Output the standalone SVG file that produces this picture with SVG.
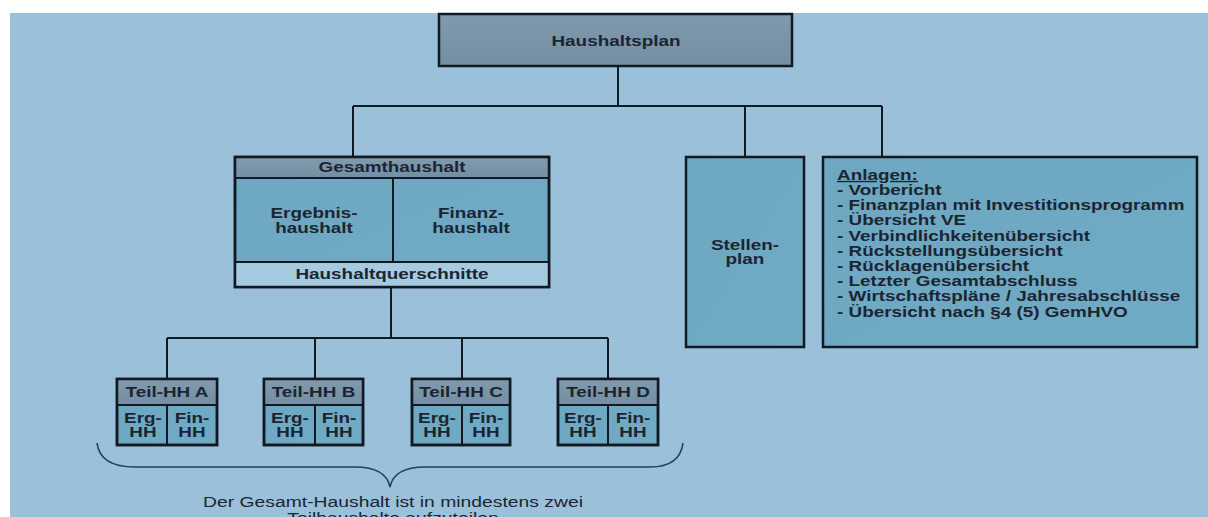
<svg xmlns="http://www.w3.org/2000/svg" width="1208" height="517" viewBox="0 0 1208 517">
<style>
.t{font-family:"Liberation Sans",Arial,sans-serif;font-size:14px;font-weight:bold;fill:#1b2532;text-anchor:middle}
.l{font-family:"Liberation Sans",Arial,sans-serif;font-size:14px;font-weight:bold;fill:#1b2532}
.n{font-family:"Liberation Sans",Arial,sans-serif;font-size:14px;fill:#1b2532;text-anchor:middle}
.box{stroke:#111a22;stroke-width:2.5}
.hdr{fill:url(#gHdr)}
.cell{fill:url(#gCell)}
.ln{stroke:#111a22;stroke-width:2;fill:none}
</style>
<defs>
<linearGradient id="gHdr" x1="0" y1="0" x2="0" y2="1"><stop offset="0" stop-color="#8199ac"/><stop offset="1" stop-color="#738fa3"/></linearGradient>
<linearGradient id="gCell" x1="0" y1="0" x2="1" y2="1"><stop offset="0" stop-color="#6ea7c1"/><stop offset="1" stop-color="#71aac5"/></linearGradient>
</defs>
<rect x="0" y="0" width="1208" height="517" fill="#ffffff"/>
<rect x="10" y="13" width="1198" height="504" fill="#9ac0da"/>

<g id="connectors">
<path class="ln" d="M618,66 V106 M353,106 H882 M353,106 V157 M745,106 V157 M882,106 V157"/>
<path class="ln" d="M391,287 V338 M167,338 H608 M167,338 V379 M315,338 V379 M462,338 V379 M608,338 V379"/>
<path d="M97,443 Q100,467 135,467 L355,467 Q386,467 390,487 Q394,467 425,467 L650,467 Q680,467 683,443" fill="none" stroke="#23405a" stroke-width="1.6"/>
</g>

<g id="haushaltsplan">
<rect class="box hdr" x="439" y="14" width="353" height="52"/>
<text class="t" transform="translate(616,46) scale(1.35,1)">Haushaltsplan</text>
</g>

<g id="gesamthaushalt">
<rect class="box cell" x="235" y="157" width="314" height="130"/>
<rect class="hdr" x="236" y="158" width="312" height="20"/>
<rect fill="#a6cbe0" x="236" y="262" width="312" height="24"/>
<path class="ln" d="M235,178 H549 M235,262 H549 M393,178 V262" stroke-width="2.5"/>
<rect class="box" fill="none" x="235" y="157" width="314" height="130"/>
<text class="t" transform="translate(392,172) scale(1.35,1)">Gesamthaushalt</text>
<text class="t" transform="translate(314,218) scale(1.35,1)">Ergebnis-</text>
<text class="t" transform="translate(314,233) scale(1.35,1)">haushalt</text>
<text class="t" transform="translate(471,218) scale(1.35,1)">Finanz-</text>
<text class="t" transform="translate(471,233) scale(1.35,1)">haushalt</text>
<text class="t" transform="translate(392,279) scale(1.35,1)">Haushaltquerschnitte</text>
</g>

<g id="stellenplan">
<rect class="box cell" x="686" y="157" width="118" height="190"/>
<text class="t" transform="translate(745,250) scale(1.35,1)">Stellen-</text>
<text class="t" transform="translate(745,264) scale(1.35,1)">plan</text>
</g>

<g id="anlagen">
<rect class="box cell" x="823" y="157" width="374" height="190"/>
<text class="l" transform="translate(837,180) scale(1.35,1)" text-decoration="underline">Anlagen:</text>
<text class="l" transform="translate(837,195) scale(1.35,1)">- Vorbericht</text>
<text class="l" transform="translate(837,210.2) scale(1.35,1)">- Finanzplan mit Investitionsprogramm</text>
<text class="l" transform="translate(837,225.4) scale(1.35,1)">- Übersicht VE</text>
<text class="l" transform="translate(837,240.6) scale(1.35,1)">- Verbindlichkeitenübersicht</text>
<text class="l" transform="translate(837,255.8) scale(1.35,1)">- Rückstellungsübersicht</text>
<text class="l" transform="translate(837,271) scale(1.35,1)">- Rücklagenübersicht</text>
<text class="l" transform="translate(837,286.2) scale(1.35,1)">- Letzter Gesamtabschluss</text>
<text class="l" transform="translate(837,301.4) scale(1.35,1)">- Wirtschaftspläne / Jahresabschlüsse</text>
<text class="l" transform="translate(837,316.6) scale(1.35,1)">- Übersicht nach §4 (5) GemHVO</text>
</g>

<g id="teil-hh-a">
<rect class="box cell" x="117" y="379" width="100" height="66"/>
<rect class="hdr" x="118" y="380" width="98" height="25"/>
<path class="ln" d="M117,405 H217 M167,405 V445" stroke-width="2.5"/>
<rect class="box" fill="none" x="117" y="379" width="100" height="66"/>
<text class="t" transform="translate(167,397) scale(1.35,1)">Teil-HH A</text>
<text class="t" transform="translate(143,423) scale(1.35,1)">Erg-</text>
<text class="t" transform="translate(143,437) scale(1.35,1)">HH</text>
<text class="t" transform="translate(192,423) scale(1.35,1)">Fin-</text>
<text class="t" transform="translate(192,437) scale(1.35,1)">HH</text>
</g>

<g id="teil-hh-b">
<rect class="box cell" x="264" y="379" width="99" height="66"/>
<rect class="hdr" x="265" y="380" width="97" height="25"/>
<path class="ln" d="M264,405 H363 M315,405 V445" stroke-width="2.5"/>
<rect class="box" fill="none" x="264" y="379" width="99" height="66"/>
<text class="t" transform="translate(313.5,397) scale(1.35,1)">Teil-HH B</text>
<text class="t" transform="translate(290,423) scale(1.35,1)">Erg-</text>
<text class="t" transform="translate(290,437) scale(1.35,1)">HH</text>
<text class="t" transform="translate(339,423) scale(1.35,1)">Fin-</text>
<text class="t" transform="translate(339,437) scale(1.35,1)">HH</text>
</g>

<g id="teil-hh-c">
<rect class="box cell" x="412" y="379" width="98" height="66"/>
<rect class="hdr" x="413" y="380" width="96" height="25"/>
<path class="ln" d="M412,405 H510 M462,405 V445" stroke-width="2.5"/>
<rect class="box" fill="none" x="412" y="379" width="98" height="66"/>
<text class="t" transform="translate(461,397) scale(1.35,1)">Teil-HH C</text>
<text class="t" transform="translate(437,423) scale(1.35,1)">Erg-</text>
<text class="t" transform="translate(437,437) scale(1.35,1)">HH</text>
<text class="t" transform="translate(486,423) scale(1.35,1)">Fin-</text>
<text class="t" transform="translate(486,437) scale(1.35,1)">HH</text>
</g>

<g id="teil-hh-d">
<rect class="box cell" x="558" y="379" width="100" height="66"/>
<rect class="hdr" x="559" y="380" width="98" height="25"/>
<path class="ln" d="M558,405 H658 M608,405 V445" stroke-width="2.5"/>
<rect class="box" fill="none" x="558" y="379" width="100" height="66"/>
<text class="t" transform="translate(608,397) scale(1.35,1)">Teil-HH D</text>
<text class="t" transform="translate(583,423) scale(1.35,1)">Erg-</text>
<text class="t" transform="translate(583,437) scale(1.35,1)">HH</text>
<text class="t" transform="translate(633,423) scale(1.35,1)">Fin-</text>
<text class="t" transform="translate(633,437) scale(1.35,1)">HH</text>
</g>

<g id="note">
<text class="n" transform="translate(393,507) scale(1.38,1)">Der Gesamt-Haushalt ist in mindestens zwei</text>
<text class="n" transform="translate(393,523) scale(1.38,1)">Teilhaushalte aufzuteilen</text>
</g>
</svg>
